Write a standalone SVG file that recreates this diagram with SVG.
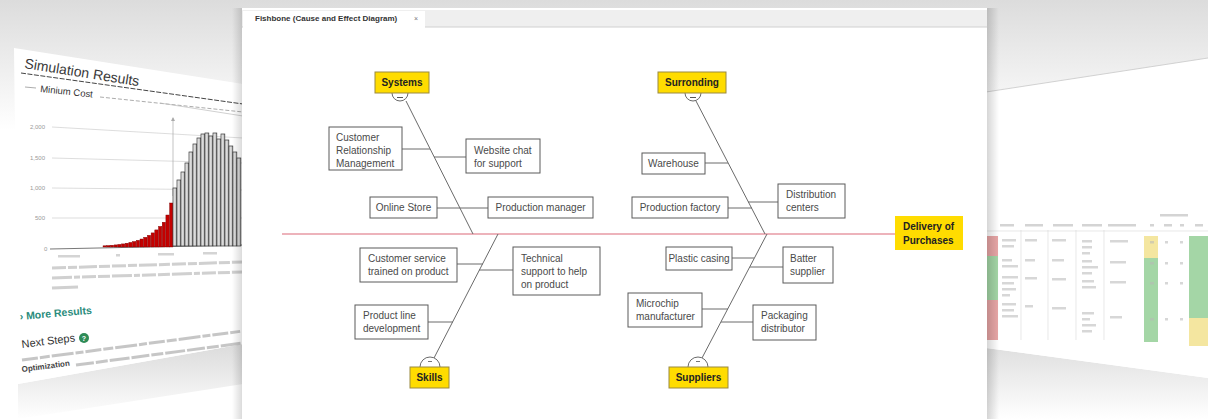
<svg xmlns="http://www.w3.org/2000/svg" width="1208" height="419" viewBox="0 0 1208 419">
<defs>
<linearGradient id="bgTop" x1="0" y1="0" x2="0" y2="1"><stop offset="0" stop-color="#dcdcdc"/><stop offset="1" stop-color="#ffffff"/></linearGradient>
<linearGradient id="shL" x1="0" y1="0" x2="1" y2="0"><stop offset="0" stop-color="#000" stop-opacity="0"/><stop offset="1" stop-color="#000" stop-opacity="0.14"/></linearGradient>
<linearGradient id="shR" x1="0" y1="0" x2="1" y2="0"><stop offset="0" stop-color="#000" stop-opacity="0.16"/><stop offset="1" stop-color="#000" stop-opacity="0"/></linearGradient>
<linearGradient id="under" x1="0" y1="0" x2="0" y2="1"><stop offset="0" stop-color="#d2d2d2"/><stop offset="1" stop-color="#ffffff"/></linearGradient>
<linearGradient id="barG" x1="0" y1="0" x2="1" y2="0"><stop offset="0" stop-color="#f6f6f6"/><stop offset="1" stop-color="#b4b4b4"/></linearGradient>
</defs>
<style>
.box{fill:#fff;stroke:#5a5a5a;stroke-width:1}
.cat{fill:#ffdc00;stroke:#9a8a40;stroke-width:1}
.t{font-family:"Liberation Sans",Arial,sans-serif;font-size:10px;fill:#4a4a4a}
.tc{font-family:"Liberation Sans",Arial,sans-serif;font-size:10px;font-weight:bold;fill:#222}
.bone{stroke:#6a6a6a;stroke-width:1;fill:none}
.spine{stroke:#e79aa5;stroke-width:1.6}
.knob{fill:#fff;stroke:#6a6a6a;stroke-width:1}
.red{fill:#c40000;stroke:#7a0000;stroke-width:0.4}
.gb{fill:url(#barG);stroke:#333;stroke-width:0.7}
.grid{stroke:#cfcfcf;stroke-width:0.7}
.ax{font-family:"Liberation Sans",Arial,sans-serif;font-size:6px;fill:#999}
.blur{fill:#b8b8b8}
.cell{stroke:none}
</style>

<!-- background -->
<rect x="0" y="0" width="1208" height="419" fill="#ffffff"/>
<rect x="0" y="0" width="1208" height="130" fill="url(#bgTop)"/>

<!-- left perspective panel -->
<g id="left-panel">
<polygon points="18,384 243,344 243,384 18,419" fill="url(#under)" opacity="0.8"/>
<polygon points="14,48 243,84 243,344 18,384" fill="#ffffff"/>
<text x="24" y="68" transform="rotate(9 24 68)" font-family="Liberation Sans,Arial,sans-serif" font-size="14" fill="#3a3a3a">Simulation Results</text>
<line x1="21" y1="73" x2="243" y2="104" stroke="#444" stroke-width="1" stroke-dasharray="5,1.5"/>
<line x1="25" y1="87" x2="36" y2="88" stroke="#888" stroke-width="0.7"/>
<text x="40" y="92" transform="rotate(6 40 92)" font-family="Liberation Sans,Arial,sans-serif" font-size="9.5" fill="#333">Minium Cost</text>
<line x1="100" y1="97" x2="243" y2="112" stroke="#888" stroke-width="0.7" stroke-dasharray="4,2"/>
<line x1="160" y1="103" x2="243" y2="116" stroke="#bbb" stroke-width="0.7"/>
<line class="grid" x1="52" y1="127" x2="243" y2="138"/>
<line class="grid" x1="52" y1="158" x2="243" y2="163"/>
<line class="grid" x1="52" y1="188" x2="243" y2="190"/>
<line class="grid" x1="52" y1="218" x2="243" y2="218"/>
<line x1="50" y1="249" x2="243" y2="245" stroke="#555" stroke-width="0.8"/>
<text class="ax" x="30" y="129">2,000</text>
<text class="ax" x="30" y="160">1,500</text>
<text class="ax" x="30" y="190">1,000</text>
<text class="ax" x="35" y="220">500</text>
<text class="ax" x="44" y="251">0</text>
<line x1="173" y1="118" x2="173" y2="196" stroke="#aaa" stroke-width="0.7"/>
<path d="M171,121 L173,117 L175,121 Z" fill="#aaa"/>
<g>
<rect class="red" x="103" y="245.8" width="3.3" height="1.2"/>
<rect class="red" x="106.7" y="245.5" width="3.3" height="1.5"/>
<rect class="red" x="110.4" y="245.2" width="3.3" height="1.8"/>
<rect class="red" x="114.1" y="244.9" width="3.3" height="2.1"/>
<rect class="red" x="117.8" y="244.4" width="3.3" height="2.6"/>
<rect class="red" x="121.5" y="243.9" width="3.3" height="3.1"/>
<rect class="red" x="125.2" y="243.2" width="3.3" height="3.8"/>
<rect class="red" x="128.9" y="242.4" width="3.3" height="4.6"/>
<rect class="red" x="132.6" y="241.5" width="3.3" height="5.5"/>
<rect class="red" x="136.3" y="240.3" width="3.3" height="6.7"/>
<rect class="red" x="140" y="239" width="3.3" height="8"/>
<rect class="red" x="143.7" y="237.3" width="3.3" height="9.7"/>
<rect class="red" x="147.4" y="235.3" width="3.3" height="11.7"/>
<rect class="red" x="151.1" y="232.9" width="3.3" height="14.1"/>
<rect class="red" x="154.8" y="229.9" width="3.3" height="17.1"/>
<rect class="red" x="158.5" y="226.4" width="3.3" height="20.6"/>
<rect class="red" x="162.2" y="222.2" width="3.3" height="24.8"/>
<rect class="red" x="165.9" y="215" width="3.3" height="32"/>
<rect class="red" x="169.6" y="203" width="3.3" height="44"/>
</g>
<g>
<rect class="gb" x="173" y="188" width="3.8" height="58"/>
<rect class="gb" x="177" y="180" width="3.8" height="66"/>
<rect class="gb" x="181" y="172" width="3.8" height="74"/>
<rect class="gb" x="185" y="163" width="3.8" height="83"/>
<rect class="gb" x="189" y="152" width="3.8" height="94"/>
<rect class="gb" x="193" y="144" width="3.8" height="102"/>
<rect class="gb" x="197" y="138" width="3.8" height="108"/>
<rect class="gb" x="201" y="134" width="3.8" height="112"/>
<rect class="gb" x="205" y="133" width="3.8" height="113"/>
<rect class="gb" x="209" y="136" width="3.8" height="110"/>
<rect class="gb" x="213" y="133" width="3.8" height="113"/>
<rect class="gb" x="217" y="139" width="3.8" height="107"/>
<rect class="gb" x="221" y="134" width="3.8" height="112"/>
<rect class="gb" x="225" y="140" width="3.8" height="106"/>
<rect class="gb" x="229" y="146" width="3.8" height="100"/>
<rect class="gb" x="233" y="152" width="3.8" height="94"/>
<rect class="gb" x="237" y="158" width="3.8" height="88"/>
</g>
<rect class="blur" x="58" y="255" width="22" height="2.5" opacity="0.6"/>
<rect class="blur" x="116" y="254" width="4" height="2.5" opacity="0.6"/>
<rect class="blur" x="158" y="253" width="16" height="2.5" opacity="0.6"/>
<rect class="blur" x="203" y="252" width="14" height="2.5" opacity="0.6"/>
<line x1="52" y1="268" x2="243" y2="262" stroke="#aaa" stroke-width="3" opacity="0.55" stroke-dasharray="14,2,9,2,18,2,11,2"/>
<line x1="52" y1="278" x2="243" y2="272" stroke="#aaa" stroke-width="3" opacity="0.55" stroke-dasharray="20,2,6,2,14,2,12,2"/>
<line x1="52" y1="288" x2="78" y2="287" stroke="#aaa" stroke-width="3" opacity="0.55"/>
<text x="20" y="320" transform="rotate(-5 20 320)" font-family="Liberation Sans,Arial,sans-serif" font-size="10.5" font-weight="bold" fill="#2a8c7c">› More Results</text>
<text x="22" y="348" transform="rotate(-7 22 348)" font-family="Liberation Sans,Arial,sans-serif" font-size="11" fill="#333">Next Steps</text>
<circle cx="84" cy="338" r="5" fill="#2e8b57"/>
<text x="84" y="341" text-anchor="middle" font-family="Liberation Sans,Arial,sans-serif" font-size="7" font-weight="bold" fill="#fff">?</text>
<line x1="22" y1="360" x2="243" y2="331" stroke="#999" stroke-width="3" opacity="0.55" stroke-dasharray="16,2,10,2,22,2,8,2"/>
<text x="22" y="372" transform="rotate(-7.5 22 372)" font-family="Liberation Sans,Arial,sans-serif" font-size="8" font-weight="bold" fill="#444">Optimization</text>
<line x1="76" y1="365" x2="243" y2="343" stroke="#999" stroke-width="3" opacity="0.55" stroke-dasharray="18,2,12,2,20,2"/>
</g>

<!-- right perspective panel -->
<g id="right-panel">
<polygon points="986,348 1208,378 1208,419 986,419" fill="url(#under)" opacity="0.7"/>
<polygon points="986,92 1208,58 1208,378 986,348" fill="#ffffff"/>
<line x1="986" y1="92" x2="1208" y2="58" stroke="#c8c8c8" stroke-width="0.8"/>
<rect class="blur" x="1160" y="214" width="28" height="2.5" opacity="0.6"/>
<rect class="blur" x="1000" y="224" width="14" height="2.5" opacity="0.6"/>
<rect class="blur" x="1025" y="224" width="18" height="2.5" opacity="0.6"/>
<rect class="blur" x="1053" y="224" width="20" height="2.5" opacity="0.6"/>
<rect class="blur" x="1082" y="224" width="20" height="2.5" opacity="0.6"/>
<rect class="blur" x="1108" y="224" width="28" height="2.5" opacity="0.6"/>
<rect class="blur" x="1150" y="224" width="4" height="2.5" opacity="0.6"/>
<rect class="blur" x="1164" y="224" width="8" height="2.5" opacity="0.6"/>
<rect class="blur" x="1180" y="224" width="4" height="2.5" opacity="0.6"/>
<rect class="blur" x="1195" y="224" width="8" height="2.5" opacity="0.6"/>
<rect class="cell" x="987" y="236" width="11" height="20" fill="#e8a6a6"/>
<rect class="cell" x="987" y="256" width="11" height="17" fill="#a4d6a6"/>
<rect class="cell" x="987" y="273" width="11" height="27" fill="#a4d6a6"/>
<rect class="cell" x="987" y="300" width="11" height="40" fill="#e8a6a6"/>
<rect class="cell" x="1144" y="236" width="14" height="22" fill="#f4e6a0"/>
<rect class="cell" x="1144" y="258" width="14" height="84" fill="#a4d6a6"/>
<rect class="cell" x="1189" y="236" width="19" height="82" fill="#a4d6a6"/>
<rect class="cell" x="1189" y="318" width="19" height="28" fill="#f4e6a0"/>
<g stroke="#d8d8d8" stroke-width="0.6">
<line x1="1021" y1="230" x2="1021" y2="340"/>
<line x1="1048" y1="230" x2="1048" y2="340"/>
<line x1="1076" y1="230" x2="1076" y2="340"/>
<line x1="1104" y1="230" x2="1104" y2="340"/>
<line x1="986" y1="231" x2="1208" y2="231"/>
</g>
<g class="blur" opacity="0.55">
<rect x="1002" y="239" width="14" height="2.5"/><rect x="1002" y="245" width="12" height="2.5"/>
<rect x="1025" y="239" width="12" height="2.5"/><rect x="1052" y="239" width="14" height="2.5"/>
<rect x="1082" y="240" width="10" height="2.5"/><rect x="1082" y="246" width="10" height="2.5"/><rect x="1082" y="252" width="8" height="2.5"/>
<rect x="1110" y="240" width="18" height="2.5"/>
<rect x="1002" y="259" width="10" height="2.5"/><rect x="1002" y="265" width="16" height="2.5"/>
<rect x="1025" y="259" width="10" height="2.5"/><rect x="1052" y="259" width="12" height="2.5"/>
<rect x="1082" y="260" width="10" height="2.5"/><rect x="1082" y="266" width="16" height="2.5"/><rect x="1082" y="272" width="10" height="2.5"/>
<rect x="1110" y="261" width="16" height="2.5"/>
<rect x="1002" y="276" width="16" height="2.5"/><rect x="1002" y="282" width="12" height="2.5"/><rect x="1002" y="288" width="14" height="2.5"/><rect x="1002" y="294" width="8" height="2.5"/>
<rect x="1025" y="277" width="12" height="2.5"/><rect x="1052" y="278" width="14" height="2.5"/>
<rect x="1082" y="280" width="12" height="2.5"/><rect x="1082" y="286" width="14" height="2.5"/>
<rect x="1110" y="281" width="16" height="2.5"/>
<rect x="1002" y="303" width="14" height="2.5"/><rect x="1002" y="309" width="12" height="2.5"/><rect x="1002" y="315" width="16" height="2.5"/>
<rect x="1025" y="305" width="8" height="2.5"/><rect x="1052" y="307" width="14" height="2.5"/>
<rect x="1082" y="312" width="12" height="2.5"/><rect x="1082" y="318" width="8" height="2.5"/><rect x="1082" y="324" width="14" height="2.5"/><rect x="1082" y="330" width="10" height="2.5"/>
<rect x="1110" y="316" width="12" height="2.5"/>
<rect x="1150" y="241" width="4" height="2.5"/><rect x="1165" y="241" width="3" height="2.5"/><rect x="1180" y="241" width="3" height="2.5"/>
<rect x="1150" y="262" width="4" height="2.5"/><rect x="1165" y="262" width="3" height="2.5"/><rect x="1180" y="262" width="3" height="2.5"/>
<rect x="1150" y="282" width="4" height="2.5"/><rect x="1165" y="282" width="3" height="2.5"/><rect x="1180" y="282" width="3" height="2.5"/>
<rect x="1150" y="318" width="4" height="2.5"/><rect x="1165" y="318" width="3" height="2.5"/><rect x="1180" y="318" width="3" height="2.5"/>
</g>
</g>

<!-- central panel -->
<g id="main-panel">
<rect x="232" y="8" width="10" height="411" fill="url(#shL)"/>
<rect x="987" y="8" width="12" height="411" fill="url(#shR)"/>
<rect x="242" y="8" width="745" height="411" fill="#ffffff"/>
<rect x="242" y="10" width="745" height="17" fill="#efefef"/>
<line x1="242" y1="27" x2="987" y2="27" stroke="#d0d0d0" stroke-width="1"/>
<rect x="243" y="11" width="182" height="17" fill="#ffffff"/>
<text x="255" y="21" font-family="Liberation Sans,Arial,sans-serif" font-size="8" font-weight="bold" fill="#333">Fishbone (Cause and Effect Diagram)</text>
<text x="414" y="21" font-family="Liberation Sans,Arial,sans-serif" font-size="7" fill="#777">×</text>
</g>

<!-- connectors -->
<g id="connectors">
<line class="spine" x1="282" y1="234" x2="895" y2="234"/>
<line class="bone" x1="406" y1="101" x2="473" y2="234"/>
<line class="bone" x1="696" y1="101" x2="765" y2="234"/>
<line class="bone" x1="498" y1="234" x2="434" y2="358"/>
<line class="bone" x1="767" y1="234" x2="702" y2="358"/>
<line class="bone" x1="402" y1="149" x2="430" y2="149"/>
<line class="bone" x1="434" y1="157" x2="466" y2="157"/>
<line class="bone" x1="437" y1="208" x2="488" y2="208"/>
<line class="bone" x1="705" y1="163" x2="728" y2="163"/>
<line class="bone" x1="728" y1="208" x2="752" y2="208"/>
<line class="bone" x1="748" y1="202" x2="778" y2="202"/>
<line class="bone" x1="457" y1="264" x2="483" y2="264"/>
<line class="bone" x1="479" y1="270" x2="513" y2="270"/>
<line class="bone" x1="428" y1="322" x2="453" y2="322"/>
<line class="bone" x1="732" y1="258" x2="754" y2="258"/>
<line class="bone" x1="750" y1="267" x2="783" y2="267"/>
<line class="bone" x1="702" y1="309" x2="728" y2="309"/>
<line class="bone" x1="721" y1="322" x2="753" y2="322"/>
</g>

<!-- category nodes -->
<g id="node-systems">
<path class="knob" d="M392,93 A8,8 0 0 0 408,93"/>
<line x1="397" y1="97.5" x2="403" y2="97.5" stroke="#555" stroke-width="1"/>
<rect class="cat" x="375" y="72" width="54" height="21"/>
<text class="tc" x="402" y="86" text-anchor="middle">Systems</text>
</g>
<g id="node-surrounding">
<path class="knob" d="M685,93 A8,8 0 0 0 701,93"/>
<line x1="690" y1="97.5" x2="696" y2="97.5" stroke="#555" stroke-width="1"/>
<rect class="cat" x="658" y="72" width="68" height="21"/>
<text class="tc" x="692" y="86" text-anchor="middle">Surronding</text>
</g>
<g id="node-skills">
<path class="knob" d="M420,367 A10,10 0 0 1 440,367"/>
<line x1="428" y1="361.5" x2="432" y2="361.5" stroke="#777" stroke-width="1"/>
<rect class="cat" x="410" y="367" width="39" height="21"/>
<text class="tc" x="429.5" y="381" text-anchor="middle">Skills</text>
</g>
<g id="node-suppliers">
<path class="knob" d="M688,367 A10,10 0 0 1 708,367"/>
<line x1="696" y1="361.5" x2="700" y2="361.5" stroke="#777" stroke-width="1"/>
<rect class="cat" x="669" y="367" width="59" height="21"/>
<text class="tc" x="698.5" y="381" text-anchor="middle">Suppliers</text>
</g>
<g id="node-delivery">
<rect x="895" y="216" width="68" height="34" fill="#ffdc00"/>
<text class="tc" x="903" y="230">Delivery of</text>
<text class="tc" x="903" y="244">Purchases</text>
</g>

<!-- cause nodes -->
<g id="node-crm">
<rect class="box" x="329" y="127" width="73" height="43"/>
<text class="t" x="336" y="141">Customer</text>
<text class="t" x="336" y="154">Relationship</text>
<text class="t" x="336" y="167">Management</text>
</g>
<g id="node-website-chat">
<rect class="box" x="466" y="139" width="74" height="34"/>
<text class="t" x="474" y="154">Website chat</text>
<text class="t" x="474" y="167">for support</text>
</g>
<g id="node-online-store">
<rect class="box" x="370" y="197" width="67" height="21"/>
<text class="t" x="403.5" y="211" text-anchor="middle">Online Store</text>
</g>
<g id="node-production-manager">
<rect class="box" x="488" y="197" width="105" height="21"/>
<text class="t" x="540.5" y="211" text-anchor="middle">Production manager</text>
</g>
<g id="node-customer-service">
<rect class="box" x="360" y="248" width="97" height="34"/>
<text class="t" x="368" y="262">Customer service</text>
<text class="t" x="368" y="275">trained on product</text>
</g>
<g id="node-technical-support">
<rect class="box" x="513" y="247" width="87" height="48"/>
<text class="t" x="521" y="262">Technical</text>
<text class="t" x="521" y="275">support to help</text>
<text class="t" x="521" y="288">on product</text>
</g>
<g id="node-product-line">
<rect class="box" x="355" y="305" width="73" height="34"/>
<text class="t" x="363" y="319">Product line</text>
<text class="t" x="363" y="332">development</text>
</g>
<g id="node-warehouse">
<rect class="box" x="642" y="153" width="63" height="21"/>
<text class="t" x="673.5" y="167" text-anchor="middle">Warehouse</text>
</g>
<g id="node-production-factory">
<rect class="box" x="632" y="197" width="96" height="21"/>
<text class="t" x="680" y="211" text-anchor="middle">Production factory</text>
</g>
<g id="node-distribution">
<rect class="box" x="778" y="184" width="67" height="34"/>
<text class="t" x="786" y="198">Distribution</text>
<text class="t" x="786" y="211">centers</text>
</g>
<g id="node-plastic-casing">
<rect class="box" x="666" y="247" width="66" height="23"/>
<text class="t" x="699" y="262" text-anchor="middle">Plastic casing</text>
</g>
<g id="node-batter-supplier">
<rect class="box" x="783" y="247" width="50" height="36"/>
<text class="t" x="790" y="262">Batter</text>
<text class="t" x="790" y="275">supplier</text>
</g>
<g id="node-microchip">
<rect class="box" x="628" y="293" width="74" height="34"/>
<text class="t" x="636" y="307">Microchip</text>
<text class="t" x="636" y="320">manufacturer</text>
</g>
<g id="node-packaging">
<rect class="box" x="753" y="305" width="63" height="35"/>
<text class="t" x="761" y="319">Packaging</text>
<text class="t" x="761" y="332">distributor</text>
</g>
</svg>
